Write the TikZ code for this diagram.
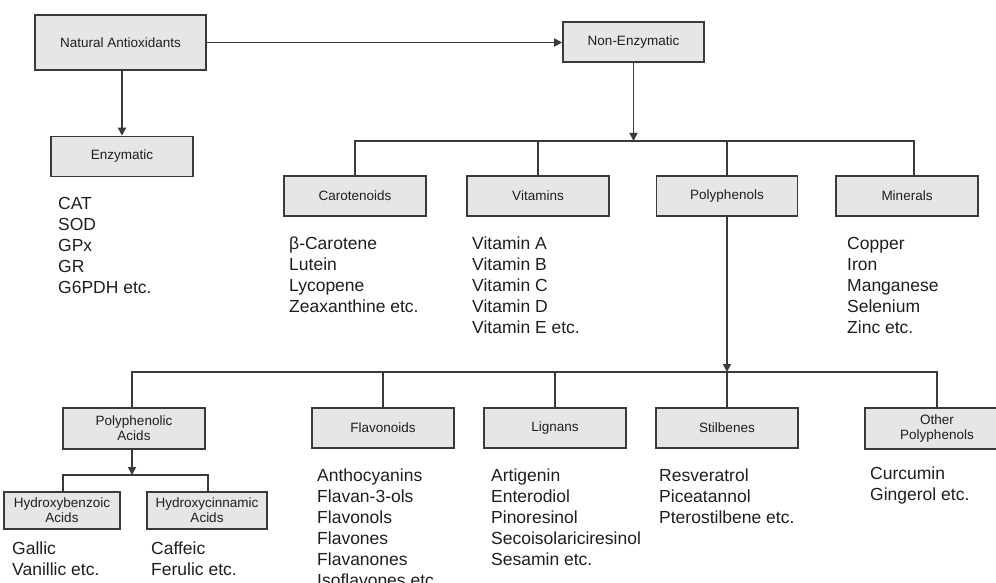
\documentclass[tikz,border=0pt]{standalone}
\usepackage{fontspec}
\setmainfont{Liberation Sans}
\usepackage{tikz}
\usetikzlibrary{arrows.meta,positioning}
\definecolor{boxgray}{HTML}{E6E6E6}
\definecolor{edgegray}{HTML}{3A3A3A}
\definecolor{inkgray}{HTML}{1E1E1E}

\begin{document}
\begin{tikzpicture}[x=1pt,y=-1pt,
		box/.style={draw=edgegray,fill=boxgray,line width=1.6pt,minimum width=142pt,minimum height=40pt,inner sep=0pt,align=center,text=inkgray,font=\fontsize{13.5}{15}\selectfont},
		items/.style={anchor=north west,align=left,inner sep=0pt,text=inkgray,font=\fontsize{17.5}{21}\selectfont},
		link/.style={draw=edgegray,line width=1.6pt},
		arr/.style={link,-{Triangle[length=8pt,width=8pt]}}]
				 %\draw[color=gray,step=10pt, help lines,opacity=0.3] (0,0) grid (996,583); %help grids
				 \useasboundingbox (0,0) rectangle (996,583);
				 \clip (0,0) rectangle (996,583);
				 \def\lst#1#2#3{
								\node[items] (#1) at #2 {#3};
				 };
				 % top row
				 \node[box,minimum width=171pt,minimum height=55pt] (natant) at (120.5,42.5) {Natural Antioxidants};
				 \node[box] (enz) at (122,156.5) {Enzymatic};
				 \node[box,minimum width=141pt] (nonenz) at (633.5,42) {Non-Enzymatic};
				 \draw[arr] (enz.north |- natant.south) -- (enz.north);
				 \draw[arr] (natant.east) -- (natant.east -| nonenz.west);
				 \lst{lenz}{(58,196.7)}{CAT\\SOD\\GPx\\GR\\G6PDH etc.};
				 % non-enzymatic branch
				 \node[box] (caro) at (355,196) {Carotenoids};
				 \node[box] (vit) at (538,196) {Vitamins};
				 \node[box,minimum width=141pt] (poly) at (727,196) {Polyphenols};
				 \node[box] (min) at (907,196) {Minerals};
				 \coordinate (busa) at (633.5,141);
				 \draw[arr] (nonenz) -- (busa);
				 \draw[link] (caro.north) |- (busa) -| ([xshift=7pt]min.north);
				 \draw[link] (vit.north) -- (vit.north |- busa);
				 \draw[link] (poly.north) -- (poly.north |- busa);
				 \lst{lcaro}{(289,236.7)}{β-Carotene\\Lutein\\Lycopene\\Zeaxanthine etc.};
				 \lst{lvit}{(472,236.7)}{Vitamin A\\Vitamin B\\Vitamin C\\Vitamin D\\Vitamin E etc.};
				 \lst{lmin}{(847,236.7)}{Copper\\Iron\\Manganese\\Selenium\\Zinc etc.};
				 % polyphenols branch
				 \node[box,minimum height=41pt] (pacid) at (134,428.5) {Polyphenolic\\Acids};
				 \node[box] (flav) at (383,428) {Flavonoids};
				 \node[box] (lig) at (555,428) {Lignans};
				 \node[box] (stil) at (727,428) {Stilbenes};
				 \node[box,minimum width=144pt,minimum height=41pt] (other) at (937,428.5) {Other\\Polyphenols};
				 \coordinate (busb) at (727,372);
				 \draw[arr] (poly) -- (busb);
				 \draw[link] ([xshift=-2pt]pacid.north) |- (busb) -| (other.north);
				 \draw[link] (flav.north) -- (flav.north |- busb);
				 \draw[link] (lig.north) -- (lig.north |- busb);
				 \draw[link] (stil.north) -- (stil.north |- busb);
				 \lst{lflav}{(317,468.7)}{Anthocyanins\\Flavan-3-ols\\Flavonols\\Flavones\\Flavanones\\Isoflavones etc.};
				 \lst{llig}{(491,468.7)}{Artigenin\\Enterodiol\\Pinoresinol\\Secoisolariciresinol\\Sesamin etc.};
				 \lst{lstil}{(659,468.7)}{Resveratrol\\Piceatannol\\Pterostilbene etc.};
				 \lst{loth}{(870,466.7)}{Curcumin\\Gingerol etc.};
				 % phenolic acids
				 \node[box,minimum width=116pt,minimum height=37pt] (hbenz) at (62,510.5) {Hydroxybenzoic\\Acids};
				 \node[box,minimum width=120pt,minimum height=37pt] (hcinn) at (207,510.5) {Hydroxycinnamic\\Acids};
				 \coordinate (busc) at (132,475);
				 \draw[arr] ([xshift=-2pt]pacid.south) -- (busc);
				 \draw[link] ([xshift=1pt]hbenz.north) |- (busc) -| ([xshift=1pt]hcinn.north);
				 \lst{lhb}{(12,541.7)}{Gallic\\Vanillic etc.};
				 \lst{lhc}{(151,541.7)}{Caffeic\\Ferulic etc.};
\end{tikzpicture}
\end{document}
